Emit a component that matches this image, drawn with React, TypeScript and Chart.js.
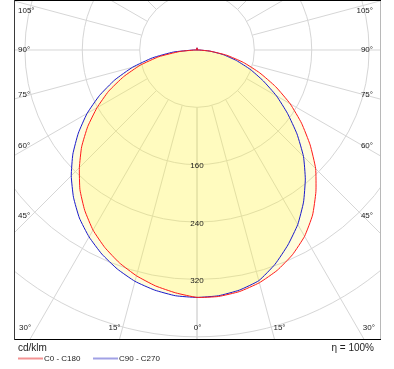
import React, { useEffect, useRef } from "react";
import { Chart, registerables } from "chart.js";

Chart.register(...registerables);

// gamma angles (degrees from nadir)
const GAMMA = [0, 5, 10, 15, 20, 25, 30, 35, 40, 45, 50, 55, 60, 65, 70, 75, 80, 85, 90,
  95, 100, 105, 110, 115, 120, 125, 130, 135, 140, 145, 150, 155, 160, 165, 170, 175, 180];

// luminous intensity, cd/klm
const C0 = [345, 345, 342, 336, 327, 315, 300, 281, 258, 234, 206, 178, 150, 121, 93, 67, 42, 18, 3,
  0, 0, 0, 0, 0, 0, 0, 0, 0, 0, 0, 0, 0, 0, 0, 0, 0, 3];
const C180 = [345, 340, 334, 326, 316, 304, 290, 273, 254, 232, 210, 186, 161, 136, 109, 82, 54, 24, 3,
  0, 0, 0, 0, 0, 0, 0, 0, 0, 0, 0, 0, 0, 0, 0, 0, 0, 3];
const C90 = [345, 344, 340, 333, 318, 300, 281, 259, 235, 210, 182, 154, 128, 102, 79, 57, 37, 18, 3,
  0, 0, 0, 0, 0, 0, 0, 0, 0, 0, 0, 0, 0, 0, 0, 0, 0, 3];
const C270 = [345, 344, 340, 334, 325, 314, 301, 286, 268, 248, 226, 202, 177, 150, 122, 93, 63, 33, 5,
  0, 0, 0, 0, 0, 0, 0, 0, 0, 0, 0, 0, 0, 0, 0, 0, 0, 3];

const RINGS = [80, 160, 240, 320, 400];
const RING_LABELS = [160, 240, 320];
const SPOKES = [0, 15, 30, 45, 60, 75, 90, 105, 120, 135, 150, 165, 180];
const SPOKE_LABELS = [0, 15, 30, 45, 60, 75, 90, 105];
const UNIT = "cd/klm";
const SERIES_NAMES = ["C0 - C180", "C90 - C270"];
const EFFICIENCY = "\u03B7 = 100%";

const X_MIN = -255.2;
const X_MAX = 255.2;
const Y_MIN = -403;
const Y_MAX = 69.7;

const FONT = '"Liberation Sans", Arial, sans-serif';

function planePoints(left: number[], right: number[]) {
  const pts: { x: number; y: number }[] = [];
  for (let i = GAMMA.length - 1; i >= 0; i--) {
    const g = (GAMMA[i] * Math.PI) / 180;
    pts.push({ x: -left[i] * Math.sin(g), y: -left[i] * Math.cos(g) });
  }
  for (let i = 1; i < GAMMA.length; i++) {
    const g = (GAMMA[i] * Math.PI) / 180;
    pts.push({ x: right[i] * Math.sin(g), y: -right[i] * Math.cos(g) });
  }
  return pts;
}

const polarPlugin = {
  id: "polarPlugin",
  beforeDraw(chart: any) {
    const { ctx, chartArea: a, scales } = chart;
    const sx = scales.x;
    const sy = scales.y;
    const cx = sx.getPixelForValue(0);
    const cy = sy.getPixelForValue(0);
    const k = sx.getPixelForValue(1) - cx;
    ctx.save();
    ctx.fillStyle = "#ffffff";
    ctx.fillRect(0, 0, chart.width, chart.height);
    ctx.beginPath();
    ctx.rect(a.left, a.top, a.right - a.left, a.bottom - a.top);
    ctx.clip();
    ctx.strokeStyle = "#d6d6d6";
    ctx.lineWidth = 1;
    for (const v of RINGS) {
      ctx.beginPath();
      ctx.arc(cx, cy, v * k, 0, Math.PI * 2);
      ctx.stroke();
    }
    const r0 = RINGS[0] * k;
    const r1 = 1000;
    for (const s of SPOKES) {
      const t = (s * Math.PI) / 180;
      for (const side of [-1, 1]) {
        const dx = side * Math.sin(t);
        const dy = Math.cos(t);
        ctx.beginPath();
        ctx.moveTo(cx + dx * r0, cy + dy * r0);
        ctx.lineTo(cx + dx * r1, cy + dy * r1);
        ctx.stroke();
      }
    }
    ctx.restore();
  },
  afterDraw(chart: any) {
    const { ctx, chartArea: a, scales } = chart;
    const sx = scales.x;
    const sy = scales.y;
    const cx = sx.getPixelForValue(0);
    const cy = sy.getPixelForValue(0);
    const k = sx.getPixelForValue(1) - cx;
    ctx.save();
    ctx.fillStyle = "#1a1a1a";
    ctx.font = `8px ${FONT}`;
    ctx.textBaseline = "middle";
    // ring labels
    ctx.textAlign = "center";
    for (const v of RING_LABELS) {
      ctx.fillText(String(v), cx, cy + v * k + 1.5);
    }
    // angle labels
    const insetX = 17;
    const topLim = a.top + 11;
    const botLim = a.bottom - 11;
    for (const s of SPOKE_LABELS) {
      const t = (s * Math.PI) / 180;
      const label = `${s}\u00B0`;
      if (s === 0) {
        ctx.textAlign = "center";
        ctx.fillText(label, cx + 0.5, botLim);
        continue;
      }
      const d = cx - (a.left + insetX);
      let yl = cy + (d / Math.sin(t)) * Math.cos(t);
      if (yl > botLim) {
        const xoff = ((a.bottom - cy) * Math.sin(t)) / Math.cos(t);
        ctx.textAlign = "right";
        ctx.fillText(label, cx - xoff + 1, botLim);
        ctx.textAlign = "left";
        ctx.fillText(label, cx + xoff - 1, botLim);
      } else {
        if (yl < topLim) yl = topLim;
        ctx.textAlign = "left";
        ctx.fillText(label, a.left + 4, yl);
        ctx.textAlign = "right";
        ctx.fillText(label, a.right - 7, yl);
      }
    }
    // border
    ctx.lineWidth = 1;
    ctx.strokeStyle = "#000000";
    ctx.beginPath();
    ctx.moveTo(a.left, a.top + 0.5);
    ctx.lineTo(a.right + 1, a.top + 0.5);
    ctx.moveTo(a.left, a.bottom + 0.5);
    ctx.lineTo(a.right + 1, a.bottom + 0.5);
    ctx.stroke();
    ctx.strokeStyle = "#3a3a3a";
    ctx.beginPath();
    ctx.moveTo(a.left + 0.5, a.top);
    ctx.lineTo(a.left + 0.5, a.bottom + 1);
    ctx.stroke();
    ctx.strokeStyle = "#b8b8b8";
    ctx.beginPath();
    ctx.moveTo(a.right + 0.5, a.top + 1);
    ctx.lineTo(a.right + 0.5, a.bottom);
    ctx.stroke();
    // legend
    ctx.fillStyle = "#222222";
    ctx.textAlign = "left";
    ctx.font = `10px ${FONT}`;
    ctx.fillText(UNIT, a.left + 4, a.bottom + 9);
    ctx.textAlign = "right";
    ctx.fillText(EFFICIENCY, a.right - 6, a.bottom + 9);
    ctx.font = `8px ${FONT}`;
    ctx.textAlign = "left";
    const ly = a.bottom + 19.5;
    const legendColors = ["rgba(240,120,120,0.8)", "rgba(130,130,220,0.75)"];
    const starts = [a.left + 4, a.left + 79];
    SERIES_NAMES.forEach((name, i) => {
      ctx.strokeStyle = legendColors[i];
      ctx.lineWidth = 2;
      ctx.beginPath();
      ctx.moveTo(starts[i], ly);
      ctx.lineTo(starts[i] + 25, ly);
      ctx.stroke();
      ctx.fillText(name, starts[i] + 26, ly);
    });
    ctx.restore();
  },
};

export default function App() {
  const canvasRef = useRef<HTMLCanvasElement | null>(null);

  useEffect(() => {
    const canvas = canvasRef.current;
    if (!canvas) return;
    const fillColor = "rgba(255,245,60,0.18)";
    const chart = new Chart(canvas, {
      type: "scatter",
      data: {
        datasets: [
          {
            label: SERIES_NAMES[0],
            data: planePoints(C180, C0),
            showLine: true,
            borderColor: "#ff1a1a",
            borderWidth: 1,
            backgroundColor: fillColor,
            fill: "shape",
            pointRadius: 0,
            tension: 0.15,
          },
          {
            label: SERIES_NAMES[1],
            data: planePoints(C270, C90),
            showLine: true,
            borderColor: "#1a1acc",
            borderWidth: 1,
            backgroundColor: fillColor,
            fill: "shape",
            pointRadius: 0,
            tension: 0.15,
          },
        ],
      },
      options: {
        animation: false,
        responsive: false,
        events: [],
        layout: { padding: { left: 14, right: 14, top: 0, bottom: 30 } },
        scales: {
          x: { type: "linear", min: X_MIN, max: X_MAX, display: false },
          y: { type: "linear", min: Y_MIN, max: Y_MAX, display: false },
        },
        plugins: {
          legend: { display: false },
          tooltip: { enabled: false },
          filler: { drawTime: "beforeDatasetsDraw" },
        },
      } as any,
      plugins: [polarPlugin],
    });
    return () => chart.destroy();
  }, []);

  return (
    <div style={{ position: "fixed", left: 0, top: 0, width: 394, height: 369, background: "#fff" }}>
      <canvas ref={canvasRef} width={394} height={369} style={{ width: 394, height: 369, display: "block" }} />
    </div>
  );
}
